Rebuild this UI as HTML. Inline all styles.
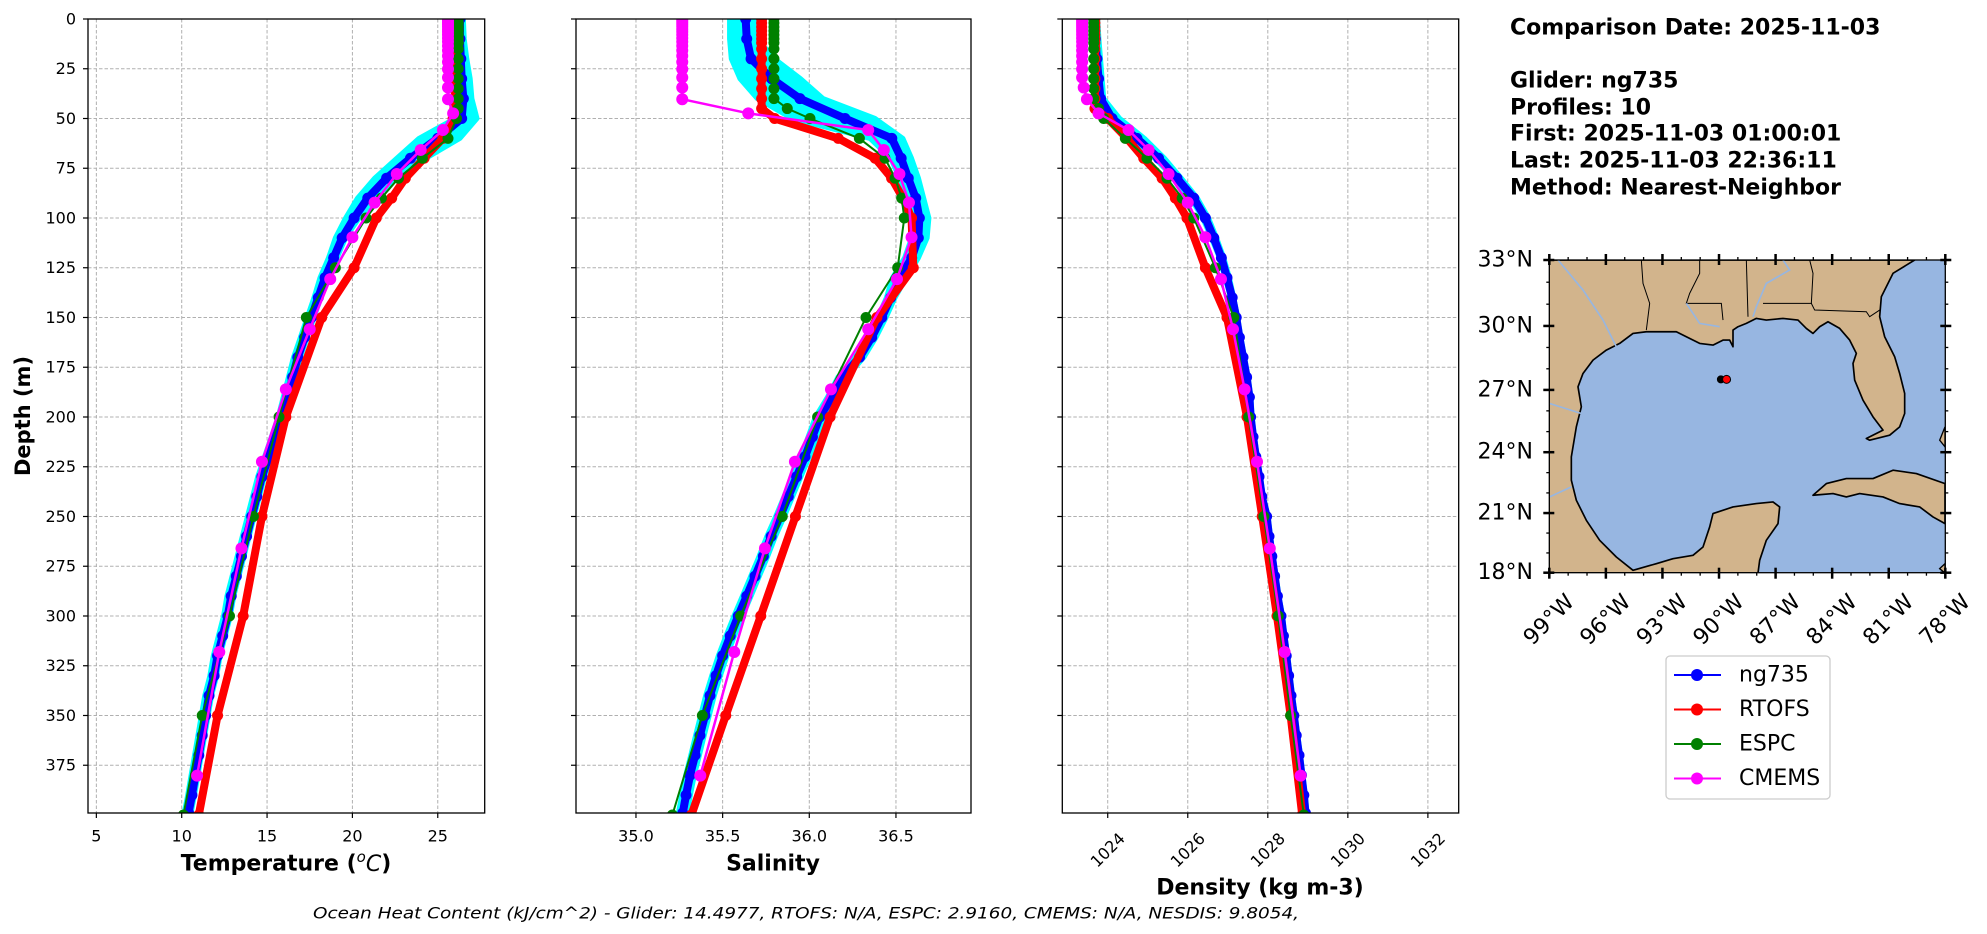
<!DOCTYPE html>
<html><head><meta charset="utf-8"><style>
html,body{margin:0;padding:0;background:#fff;}
svg{display:block;font-family:"DejaVu Sans","Liberation Sans",sans-serif;}
</style></head><body>
<svg id="fig" width="1987" height="934" viewBox="0 0 1987 934" xmlns="http://www.w3.org/2000/svg">
<rect width="1987" height="934" fill="#fff"/>
<g id="panels"></g>
<g id="mapg">
  <svg x="1549" y="260" width="396" height="313" viewBox="148 60 1188 938" preserveAspectRatio="none">
    <rect x="148" y="60" width="1188" height="938" fill="#97b6e1"/>
    <path fill="#d2b48c" stroke="#000" stroke-width="5" stroke-linejoin="round" d="M148,60 L1245,60 L1180,100 L1145,170 L1140,230 L1155,290 L1185,350 L1200,400 L1215,460 L1215,520 L1200,560 L1170,585 L1110,600 L1100,595 L1150,570 L1120,530 L1090,480 L1065,420 L1060,370 L1070,340 L1050,300 L1020,265 L985,245 L960,260 L940,280 L920,265 L895,240 L850,235 L800,240 L770,235 L740,250 L715,260 L700,270 L700,320 L690,300 L670,300 L640,315 L600,310 L560,290 L530,275 L480,275 L440,275 L400,280 L360,310 L320,330 L280,360 L250,400 L235,440 L245,500 L230,560 L215,650 L215,720 L230,780 L260,840 L300,900 L350,950 L400,990 L470,970 L520,955 L580,945 L610,920 L630,860 L640,820 L700,800 L770,790 L820,785 L840,800 L835,850 L800,900 L780,960 L775,998 L148,998 Z"/>
    <path fill="#d2b48c" stroke="#000" stroke-width="5" stroke-linejoin="round" d="M940,765 L980,730 L1040,715 L1120,715 L1180,690 L1250,700 L1336,730 L1336,850 L1300,830 L1260,800 L1200,790 L1150,770 L1080,760 L1040,770 L1000,760 Z"/>
    <path fill="#d2b48c" stroke="#000" stroke-width="4" d="M1320,600 L1336,560 L1336,620 Z M1320,985 L1336,970 L1336,998 Z"/>
    <g fill="none" stroke="#000" stroke-width="3">
      <path d="M425,60 L430,130 L450,190 L440,270"/>
      <path d="M600,60 L600,100 L570,160 L560,190 L665,190 L670,240"/>
      <path d="M740,60 L745,230"/>
      <path d="M790,190 L935,190 L945,210 L1100,215 L1110,230 L1140,210"/>
      <path d="M930,60 L940,100 L935,190"/>
    </g>
    <g fill="none" stroke="#97b6e1" stroke-width="5">
      <path d="M175,60 L250,150 L310,240 L350,320"/>
      <path d="M150,490 L245,520"/>
      <path d="M150,770 L215,740"/>
      <path d="M850,60 L870,90 L800,130 L770,200 L760,230"/>
      <path d="M560,190 L600,250 L660,260"/>
    </g>
  </svg>
</g>
<g id="mapaxes"></g>
</svg>
<script>
// ---------- data ----------
const gliderDepth=[0,10,20,30,40,50,60,70,80,90,100,110,120,130,140,150,160,170,180,190,200,210,220,230,240,250,260,270,280,290,300,310,320,330,340,350,360,370,380,390,399];
const gliderTemp=[26.3,26.3,26.35,26.4,26.5,26.4,25.0,23.4,22.0,20.9,20.1,19.4,18.9,18.4,18.0,17.6,17.2,16.8,16.5,16.2,15.9,15.5,15.1,14.7,14.4,14.1,13.8,13.5,13.2,12.9,12.7,12.4,12.1,11.9,11.6,11.4,11.2,11.0,10.8,10.6,10.4];
const gliderTempLo=[26.15,26.15,26.15,26.15,26.2,26.0,23.9,22.6,21.3,20.3,19.6,19.0,18.6,18.1,17.75,17.35,16.95,16.55,16.25,15.95,15.65,15.25,14.85,14.45,14.15,13.85,13.55,13.25,12.95,12.65,12.45,12.15,11.85,11.65,11.35,11.15,10.95,10.75,10.55,10.35,10.15];
const gliderTempHi=[26.5,26.55,26.7,26.9,27.0,27.3,26.3,24.3,22.6,21.3,20.4,19.6,19.1,18.6,18.15,17.75,17.35,16.95,16.65,16.35,16.05,15.65,15.25,14.85,14.55,14.25,13.95,13.65,13.35,13.05,12.85,12.55,12.25,12.05,11.75,11.55,11.35,11.15,10.95,10.75,10.55];
const gliderSal=[35.633,35.639,35.664,35.783,35.946,36.206,36.476,36.53,36.571,36.614,36.635,36.629,36.591,36.523,36.47,36.418,36.36,36.29,36.19,36.13,36.06,36.018,35.975,35.927,35.879,35.831,35.78,35.735,35.687,35.639,35.59,35.544,35.5,35.462,35.427,35.398,35.369,35.341,35.312,35.289,35.27];
const gliderSalLo=[35.54,35.54,35.55,35.6,35.7,35.9,36.35,36.47,36.52,36.57,36.6,36.59,36.55,36.48,36.445,36.395,36.335,36.265,36.165,36.105,36.035,35.993,35.95,35.902,35.854,35.806,35.755,35.71,35.662,35.614,35.565,35.519,35.475,35.437,35.402,35.373,35.344,35.316,35.287,35.264,35.245];
const gliderSalHi=[35.68,35.7,35.8,35.95,36.08,36.38,36.54,36.59,36.63,36.66,36.69,36.68,36.63,36.56,36.495,36.443,36.385,36.315,36.215,36.155,36.085,36.043,36.0,35.952,35.904,35.856,35.805,35.76,35.712,35.664,35.615,35.569,35.525,35.487,35.452,35.423,35.394,35.366,35.337,35.314,35.295];
const gliderDens=[1023.65,1023.69,1023.73,1023.77,1023.82,1024.11,1024.73,1025.27,1025.73,1026.15,1026.44,1026.65,1026.84,1026.98,1027.11,1027.21,1027.29,1027.38,1027.47,1027.54,1027.57,1027.63,1027.7,1027.78,1027.85,1027.97,1028.03,1028.1,1028.17,1028.24,1028.33,1028.39,1028.46,1028.52,1028.58,1028.65,1028.71,1028.78,1028.84,1028.9,1028.94];
const gliderDensLo=[1023.6,1023.62,1023.66,1023.7,1023.74,1024.0,1024.62,1025.18,1025.65,1026.07,1026.37,1026.59,1026.79,1026.93,1027.07,1027.17,1027.25,1027.34,1027.43,1027.5,1027.53,1027.59,1027.66,1027.74,1027.81,1027.93,1027.99,1028.06,1028.13,1028.2,1028.29,1028.35,1028.42,1028.48,1028.54,1028.61,1028.67,1028.74,1028.8,1028.86,1028.9];
const gliderDensHi=[1023.75,1023.78,1023.82,1023.86,1023.9,1024.3,1024.92,1025.42,1025.84,1026.24,1026.52,1026.72,1026.9,1027.04,1027.15,1027.25,1027.33,1027.42,1027.51,1027.58,1027.61,1027.67,1027.74,1027.82,1027.89,1028.01,1028.07,1028.14,1028.21,1028.28,1028.37,1028.43,1028.5,1028.56,1028.62,1028.69,1028.75,1028.82,1028.88,1028.94,1028.98];

const modelDepth=[0,2,4,6,8,10,12,15,20,25,30,35,40,45,50,60,70,80,90,100,125,150,200,250,300,350,400];
const rtofsTemp=[26.0,26.0,26.0,26.0,26.0,26.0,26.0,26.0,26.0,26.0,26.0,26.0,26.0,26.0,25.9,25.3,24.2,23.1,22.3,21.4,20.1,18.2,16.1,14.7,13.6,12.1,11.0];
const rtofsSal=[35.725,35.725,35.725,35.725,35.725,35.725,35.725,35.725,35.725,35.725,35.725,35.725,35.725,35.725,35.80,36.167,36.38,36.475,36.54,36.59,36.60,36.39,36.12,35.92,35.72,35.518,35.32];
const rtofsDens=[1023.68,1023.68,1023.68,1023.68,1023.68,1023.68,1023.68,1023.68,1023.68,1023.68,1023.68,1023.68,1023.68,1023.68,1024.0,1024.48,1024.9,1025.36,1025.69,1025.98,1026.44,1026.98,1027.48,1027.86,1028.23,1028.57,1028.86];
const espcTemp=[26.2,26.2,26.2,26.2,26.2,26.2,26.2,26.2,26.2,26.2,26.2,26.2,26.2,26.2,26.1,25.6,24.1,22.7,21.7,20.8,19.0,17.3,15.7,14.2,12.8,11.2,10.1];
const espcSal=[35.796,35.796,35.796,35.796,35.796,35.796,35.796,35.796,35.796,35.796,35.796,35.796,35.796,35.873,36.004,36.289,36.437,36.495,36.533,36.548,36.51,36.327,36.048,35.844,35.604,35.383,35.21];
const espcDens=[1023.65,1023.65,1023.65,1023.65,1023.65,1023.65,1023.65,1023.65,1023.65,1023.65,1023.65,1023.65,1023.65,1023.77,1023.9,1024.44,1024.98,1025.48,1025.86,1026.15,1026.69,1027.15,1027.52,1027.9,1028.26,1028.57,1028.9];

const cmemsDepth=[0.5,1.5,2.6,3.8,5.1,6.4,7.9,9.6,11.4,13.5,15.8,18.5,21.6,25.2,29.4,34.4,40.3,47.4,55.8,65.8,77.9,92.3,109.7,130.7,155.9,186.1,222.5,266.0,318.1,380.2];
const cmemsTemp=[25.6,25.6,25.6,25.6,25.6,25.6,25.6,25.6,25.6,25.6,25.6,25.6,25.6,25.6,25.6,25.6,25.6,25.9,25.3,24.0,22.6,21.3,20.0,18.7,17.5,16.1,14.7,13.5,12.2,10.9];
const cmemsSal=[35.267,35.267,35.267,35.267,35.267,35.267,35.267,35.267,35.267,35.267,35.267,35.267,35.267,35.267,35.267,35.267,35.267,35.648,36.34,36.43,36.52,36.575,36.59,36.506,36.34,36.125,35.917,35.744,35.567,35.371];
const cmemsDens=[1023.36,1023.36,1023.36,1023.36,1023.36,1023.36,1023.36,1023.36,1023.36,1023.36,1023.36,1023.36,1023.36,1023.36,1023.36,1023.40,1023.48,1023.77,1024.52,1025.02,1025.52,1026.0,1026.44,1026.83,1027.13,1027.42,1027.73,1028.05,1028.42,1028.82];

const depthTicks=[0,25,50,75,100,125,150,175,200,225,250,275,300,325,350,375];
const tempTicks=[5,10,15,20,25];
const salTicks=[35.0,35.5,36.0,36.5];
const salTickLabels=["35.0","35.5","36.0","36.5"];
const densTicks=[1024,1026,1028,1030,1032];
const lonTicks=[-99,-96,-93,-90,-87,-84,-81,-78];
const lonLabels=["99°W","96°W","93°W","90°W","87°W","84°W","81°W","78°W"];
const latTicks=[33,30,27,24,21,18];
const latLabels=["33°N","30°N","27°N","24°N","21°N","18°N"];
const gliderLon=[-89.9,-89.6];
const gliderLat=[27.5,27.5];
const legendNames=["ng735","RTOFS","ESPC","CMEMS"];
const legendColors=["#0000ff","#ff0000","#008000","#ff00ff"];

// ---------- drawing ----------
const NS="http://www.w3.org/2000/svg";
function mk(tag,attrs,parent){const e=document.createElementNS(NS,tag);for(const k in attrs)e.setAttribute(k,attrs[k]);parent.appendChild(e);return e;}
const panelsG=document.getElementById('panels');
const TOP=19,BOT=813,DMAX=399;
function sy(d){return TOP+(d/DMAX)*(BOT-TOP);}

function drawPanel(name,x0,x1,vmin,vmax,ticks,labels,rotate,showY,series){
  const g=mk('g',{},panelsG);
  
  
  const sx=v=>x0+(v-vmin)/(vmax-vmin)*(x1-x0);
  depthTicks.forEach(d=>{const l=mk('line',{x1:x0,x2:x1,y1:sy(d),y2:sy(d),stroke:'#b0b0b0','stroke-width':1,'stroke-dasharray':'3.5,2'},g);
    
    });
  ticks.forEach(t=>{const l=mk('line',{x1:sx(t),x2:sx(t),y1:TOP,y2:BOT,stroke:'#b0b0b0','stroke-width':1,'stroke-dasharray':'3.5,2'},g);
    
    });
  const clip=mk('clipPath',{id:'clip-'+name},g);mk('rect',{x:x0,y:TOP,width:x1-x0,height:BOT-TOP},clip);
  const dg=mk('g',{'clip-path':'url(#clip-'+name+')'},g);
  const lo=series.lo,hi=series.hi;
  let pts=[];gliderDepth.forEach((d,i)=>pts.push(sx(lo[i])+','+sy(d)));
  for(let i=gliderDepth.length-1;i>=0;i--)pts.push(sx(hi[i])+','+sy(gliderDepth[i]));
  const env=mk('polygon',{points:pts.join(' '),fill:'#00ffff',stroke:'#00ffff','stroke-width':5,'stroke-linejoin':'round'},dg);
  
  
  function line(dep,vals,color,lw,r,nm){
    const sg=mk('g',{},dg);
    
    
    mk('polyline',{points:dep.map((d,i)=>sx(vals[i])+','+sy(d)).join(' '),fill:'none',stroke:color,'stroke-width':lw,'stroke-linejoin':'round','stroke-linecap':'round'},sg);
    dep.forEach((d,i)=>{const c=mk('circle',{cx:sx(vals[i]),cy:sy(d),r:r,fill:color},sg);
      
      });
  }
  line(gliderDepth,series.blue,'#0000ff',8,5.5,'ng735-series');
  line(modelDepth,series.red,'#ff0000',8,5.5,'rtofs-series');
  line(modelDepth,series.green,'#008000',2,5.5,'espc-series');
  line(cmemsDepth,series.mag,'#ff00ff',2.5,6,'cmems-series');
  const fr=mk('rect',{x:x0,y:TOP,width:x1-x0,height:BOT-TOP,fill:'none',stroke:'#000','stroke-width':1.3},g);
  
  
  depthTicks.forEach(d=>{mk('line',{x1:x0-5,x2:x0,y1:sy(d),y2:sy(d),stroke:'#000','stroke-width':1.2},g);
    if(showY){const t=mk('text',{x:x0-12,y:sy(d),'font-size':16,'text-anchor':'end','dominant-baseline':'central'},g);t.textContent=d;
      
      }});
  ticks.forEach((v,i)=>{mk('line',{x1:sx(v),x2:sx(v),y1:BOT,y2:BOT+5,stroke:'#000','stroke-width':1.2},g);
    let t;
    if(rotate){t=mk('text',{x:sx(v),y:850,'font-size':16,'text-anchor':'middle','dominant-baseline':'central',transform:'rotate(-45 '+sx(v)+' 850)'},g);}
    else{t=mk('text',{x:sx(v),y:836,'font-size':16,'text-anchor':'middle','dominant-baseline':'central'},g);}
    t.textContent=labels[i];
    
    });
}
drawPanel('temperature',88,484.7,4.51,27.75,tempTicks,tempTicks.map(String),false,true,
  {lo:gliderTempLo,hi:gliderTempHi,blue:gliderTemp,red:rtofsTemp,green:espcTemp,mag:cmemsTemp});
drawPanel('salinity',576,971,34.654,36.933,salTicks,salTickLabels,false,false,
  {lo:gliderSalLo,hi:gliderSalHi,blue:gliderSal,red:rtofsSal,green:espcSal,mag:cmemsSal});
drawPanel('density',1062.3,1458.7,1022.865,1032.77,densTicks,densTicks.map(String),true,false,
  {lo:gliderDensLo,hi:gliderDensHi,blue:gliderDens,red:rtofsDens,green:espcDens,mag:cmemsDens});

// ---------- map axes ----------
const mg=document.getElementById('mapaxes');
const MX0=1549.3,MX1=1945.3,MY0=260,MY1=572.7;
const merc=l=>Math.asinh(Math.tan(l*Math.PI/180));
const lx=lon=>MX0+(lon+99)/21*(MX1-MX0);
const ly=lat=>MY0+(merc(33)-merc(lat))/(merc(33)-merc(18))*(MY1-MY0);
mk('rect',{x:MX0,y:MY0,width:MX1-MX0,height:MY1-MY0,fill:'none',stroke:'#000','stroke-width':1.3},mg);
for(let lon=-99;lon<=-78;lon++){const maj=(lon+99)%3===0;const L=maj?6:3;const w=maj?2.5:1.3;
  mk('line',{x1:lx(lon),x2:lx(lon),y1:MY1-(maj?5:0),y2:MY1+L,stroke:'#000','stroke-width':w},mg);
  mk('line',{x1:lx(lon),x2:lx(lon),y1:MY0+(maj?5:0),y2:MY0-L,stroke:'#000','stroke-width':w},mg);}
for(let lat=18;lat<=33;lat++){const maj=(33-lat)%3===0;const L=maj?6:3;const w=maj?2.5:1.3;
  mk('line',{x1:MX0+(maj?5:0),x2:MX0-L,y1:ly(lat),y2:ly(lat),stroke:'#000','stroke-width':w},mg);
  mk('line',{x1:MX1-(maj?5:0),x2:MX1+L,y1:ly(lat),y2:ly(lat),stroke:'#000','stroke-width':w},mg);}
lonTicks.forEach((lon,i)=>{const x=lx(lon);const t=mk('text',{x:x,y:620,'font-size':22,'text-anchor':'middle','dominant-baseline':'central',transform:'rotate(-45 '+x+' 620)'},mg);t.textContent=lonLabels[i];
  
  });
latTicks.forEach((lat,i)=>{const t=mk('text',{x:1533,y:ly(lat),'font-size':22,'text-anchor':'end','dominant-baseline':'central'},mg);t.textContent=latLabels[i];
  
  });
gliderLon.forEach((lon,i)=>{const c=mk('circle',{cx:lx(lon),cy:ly(gliderLat[i]),r:i?4:3.5,fill:i?'#ff0000':'#000',stroke:'#000','stroke-width':1},mg);
  
  });

// ---------- legend ----------
const lg=mk('g',{},mg);


mk('rect',{x:1666,y:656,width:164,height:143,rx:4,fill:'#fff',stroke:'#cccccc','stroke-width':1.3},lg);
legendNames.forEach((n,i)=>{const y=675+i*34.5;const eg=mk('g',{},lg);
  
  
  mk('line',{x1:1674,x2:1721,y1:y,y2:y,stroke:legendColors[i],'stroke-width':2},eg);
  mk('circle',{cx:1697,cy:y,r:6,fill:legendColors[i]},eg);
  const t=mk('text',{x:1739,y:y,'font-size':22,'dominant-baseline':'central'},eg);t.textContent=n;});
</script>
<svg style="position:absolute;left:0;top:0" width="1987" height="934">
<g font-family="DejaVu Sans, Liberation Sans, sans-serif">
<text x="23" y="416" font-size="21" font-weight="bold" text-anchor="middle" dominant-baseline="central" transform="rotate(-90 23 416)">Depth (m)</text>
<text x="286" y="864" font-size="22" font-weight="bold" text-anchor="middle" dominant-baseline="central">Temperature (<tspan font-style="italic" font-weight="normal" font-size="15" dy="-7">o</tspan><tspan font-style="italic" font-weight="normal" dy="7">C</tspan>)</text>
<text x="773" y="864" font-size="22" font-weight="bold" text-anchor="middle" dominant-baseline="central">Salinity</text>
<text x="1260" y="888" font-size="22" font-weight="bold" text-anchor="middle" dominant-baseline="central">Density (kg m-3)</text>
<text x="313" y="913" font-size="16" font-style="italic" dominant-baseline="central" textLength="986" lengthAdjust="spacingAndGlyphs">Ocean Heat Content (kJ/cm^2) - Glider: 14.4977,  RTOFS: N/A,  ESPC: 2.9160,  CMEMS: N/A,  NESDIS: 9.8054,</text>
<g font-size="22" font-weight="bold">
<text x="1510" y="28" dominant-baseline="central">Comparison Date: 2025-11-03</text>
<text x="1510" y="81" dominant-baseline="central">Glider: ng735</text>
<text x="1510" y="108" dominant-baseline="central">Profiles: 10</text>
<text x="1510" y="134" dominant-baseline="central">First: 2025-11-03 01:00:01</text>
<text x="1510" y="161" dominant-baseline="central">Last: 2025-11-03 22:36:11</text>
<text x="1510" y="188" dominant-baseline="central">Method: Nearest-Neighbor</text>
</g>
</g>
</svg>
</body></html>
